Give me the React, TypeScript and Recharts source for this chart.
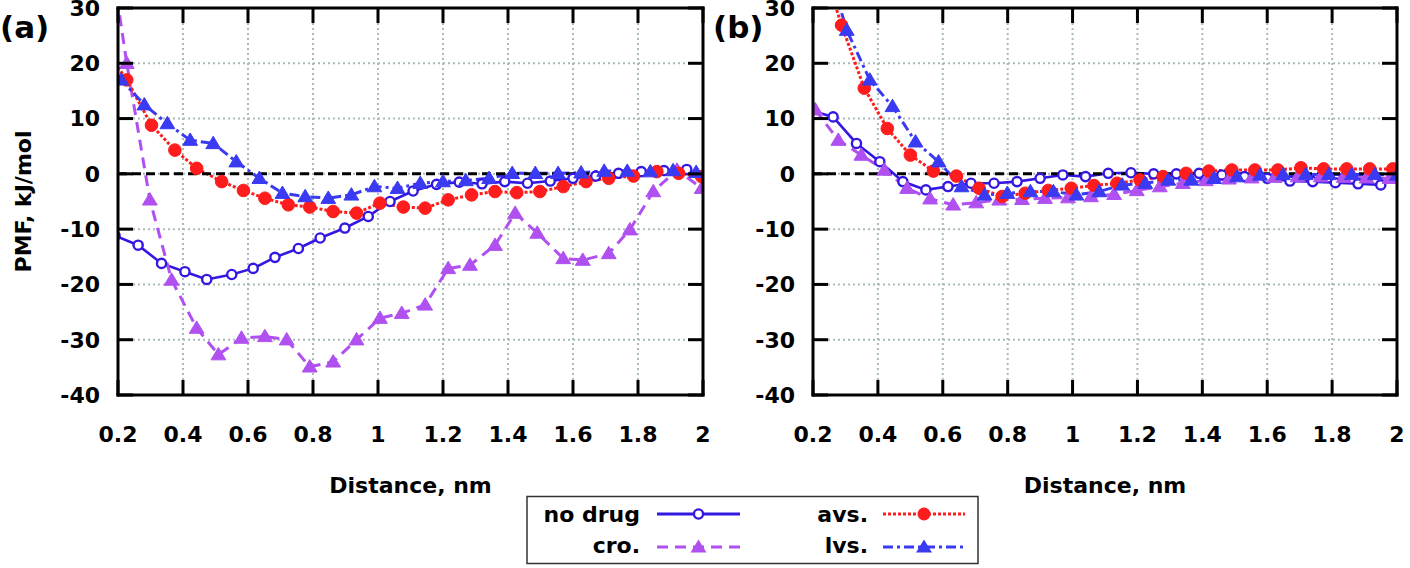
import React from 'react';
import { LineChart, Line, XAxis, YAxis, CartesianGrid, ReferenceLine } from 'recharts';

// ---------- data ----------
const xTicks = [0.2, 0.4, 0.6, 0.8, 1, 1.2, 1.4, 1.6, 1.8, 2];
const xTickLabels = ['0.2', '0.4', '0.6', '0.8', '1', '1.2', '1.4', '1.6', '1.8', '2'];
const yTicks = [-40, -30, -20, -10, 0, 10, 20, 30];
const yTickLabels = ['-40', '-30', '-20', '-10', '0', '10', '20', '30'];
const xDomain = [0.2, 2];
const yDomain = [-40, 30];

const seriesNames = ['no drug', 'cro.', 'avs.', 'lvs.'];

// panel (a)
const noDrugAX = [0.191, 0.262, 0.334, 0.406, 0.473, 0.55, 0.616, 0.683, 0.755, 0.822, 0.898, 0.97, 1.037, 1.108, 1.18, 1.25, 1.32, 1.39, 1.46, 1.53, 1.6, 1.67, 1.74, 1.81, 1.88, 1.95];
const noDrugAY = [-11.2, -12.9, -16.2, -17.7, -19.1, -18.2, -17.1, -15.1, -13.5, -11.6, -9.8, -7.7, -5.0, -3.1, -1.9, -1.5, -1.8, -1.4, -1.7, -1.3, -0.8, -0.4, 0.1, 0.4, 0.6, 0.8];

const croAX = [0.156, 0.227, 0.298, 0.365, 0.442, 0.509, 0.58, 0.652, 0.719, 0.79, 0.862, 0.934, 1.006, 1.073, 1.145, 1.216, 1.283, 1.36, 1.422, 1.49, 1.57, 1.63, 1.71, 1.775, 1.847, 1.92, 1.996];
const croAY = [48, 20, -4.7, -19.2, -27.9, -32.7, -29.7, -29.4, -30.0, -34.9, -34.0, -30.0, -26.1, -25.2, -23.7, -17.1, -16.5, -12.9, -7.1, -10.7, -15.3, -15.6, -14.4, -10.1, -3.2, 0.7, -2.6];

const avsAX = [0.156, 0.227, 0.303, 0.375, 0.442, 0.519, 0.586, 0.652, 0.724, 0.79, 0.862, 0.934, 1.006, 1.078, 1.145, 1.216, 1.288, 1.36, 1.427, 1.498, 1.57, 1.64, 1.71, 1.786, 1.858, 1.925, 1.996];
const avsAY = [23, 17.0, 8.8, 4.3, 1.0, -1.4, -3.0, -4.4, -5.6, -6.0, -6.8, -7.1, -5.3, -6.0, -6.2, -4.7, -3.8, -3.2, -3.4, -3.2, -2.3, -1.4, -0.8, -0.4, 0.4, 0.1, -0.5];

const lvsAX = [0.139, 0.21, 0.281, 0.352, 0.422, 0.493, 0.564, 0.635, 0.706, 0.776, 0.847, 0.918, 0.989, 1.06, 1.13, 1.2, 1.27, 1.342, 1.413, 1.484, 1.554, 1.625, 1.696, 1.767, 1.838, 1.908, 1.979];
const lvsAY = [16.3, 17.0, 12.5, 9.1, 6.1, 5.5, 2.2, -0.8, -3.5, -4.1, -4.4, -3.8, -2.3, -2.6, -1.7, -1.4, -1.2, -0.8, 0.1, 0.1, 0.1, 0.2, 0.5, 0.5, 0.4, 0.6, 0.3];

// panel (b)
const noDrugBX = [0.191, 0.262, 0.334, 0.406, 0.477, 0.548, 0.616, 0.687, 0.758, 0.829, 0.9, 0.97, 1.04, 1.11, 1.18, 1.25, 1.32, 1.39, 1.46, 1.53, 1.6, 1.67, 1.74, 1.81, 1.88, 1.95];
const noDrugBY = [11.5, 10.3, 5.5, 2.2, -1.4, -2.9, -2.3, -1.7, -1.7, -1.4, -0.8, -0.2, -0.5, 0.1, 0.2, 0.0, 0.0, 0.1, -0.2, -0.5, -0.8, -1.3, -1.4, -1.6, -1.8, -2.0];

const croBX = [0.207, 0.278, 0.349, 0.42, 0.49, 0.561, 0.632, 0.703, 0.774, 0.844, 0.915, 0.986, 1.057, 1.128, 1.198, 1.269, 1.34, 1.411, 1.482, 1.552, 1.623, 1.694, 1.765, 1.836, 1.906, 1.977];
const croBY = [11.6, 6.1, 3.4, 0.7, -2.6, -4.5, -5.6, -5.2, -4.7, -4.6, -4.4, -4.3, -4.1, -3.7, -3.0, -2.3, -1.7, -1.2, -0.9, -0.7, -0.6, -0.5, -0.5, -0.6, -0.7, -0.8];

const avsBX = [0.217, 0.288, 0.358, 0.429, 0.5, 0.571, 0.642, 0.712, 0.783, 0.854, 0.925, 0.996, 1.066, 1.137, 1.208, 1.279, 1.35, 1.42, 1.491, 1.562, 1.633, 1.704, 1.774, 1.845, 1.916, 1.987];
const avsBY = [40, 26.9, 15.5, 8.2, 3.4, 0.5, -0.4, -2.6, -4.1, -3.5, -3.0, -2.6, -2.1, -1.7, -1.1, -0.5, 0.1, 0.5, 0.7, 0.7, 0.7, 1.1, 0.9, 0.9, 0.9, 0.9];

const lvsBX = [0.233, 0.304, 0.375, 0.445, 0.516, 0.587, 0.658, 0.729, 0.799, 0.87, 0.941, 1.012, 1.082, 1.153, 1.224, 1.295, 1.366, 1.436, 1.507, 1.578, 1.649, 1.719, 1.79, 1.861, 1.932, 2.0];
const lvsBY = [40, 26.0, 17.0, 12.2, 5.8, 2.2, -2.3, -3.8, -3.5, -3.2, -3.2, -3.8, -3.2, -2.0, -1.7, -1.1, -1.1, -0.8, -0.5, -0.2, -0.1, -0.1, -0.1, -0.1, -0.1, -0.2];

// ---------- styles ----------
const FONT = 'DejaVu Sans';
const C_NODRUG = '#3318e2';
const C_CRO = '#b050f0';
const C_AVS = '#ff1c1c';
const C_LVS = '#3a3af2';
const GRID = '#a9baba';

const PLOT_TOP = 8;
const CHART_H = 500;
const X_AXIS_H = 105; // plot bottom at 395
const PLOT_BOTTOM = CHART_H - X_AXIS_H;
const BW = 3; // frame thickness

// panel layout (page pixels)
const A_LEFT = 0, A_W = 712, A_YW = 118, A_RM = 9;
const B_LEFT = 705, B_W = 700, B_YW = 108, B_RM = 8;

const toPts = (xs: number[], ys: number[]) => xs.map((x, i) => ({ x, y: ys[i] }));

const circleOpen = (color: string) => (p: any) => {
  const { cx, cy, index } = p;
  if (cx == null || cy == null) return <g key={`o${index}`} />;
  return <circle key={`o${index}`} cx={cx} cy={cy} r={4.6} fill="#fff" stroke={color} strokeWidth={2.4} />;
};
const circleFilled = (color: string) => (p: any) => {
  const { cx, cy, index } = p;
  if (cx == null || cy == null) return <g key={`f${index}`} />;
  return <circle key={`f${index}`} cx={cx} cy={cy} r={6.3} fill={color} stroke={color} strokeWidth={1} />;
};
const triangle = (color: string) => (p: any) => {
  const { cx, cy, index } = p;
  if (cx == null || cy == null) return <g key={`t${index}`} />;
  const d = `M${cx},${cy - 7.2} L${cx + 7.4},${cy + 5.2} L${cx - 7.4},${cy + 5.2} Z`;
  return <path key={`t${index}`} d={d} fill={color} stroke={color} strokeWidth={1} />;
};

const makeXTick = () => (p: any) => {
  const { x, y, payload, index } = p;
  const axisY = y;
  const i = xTicks.indexOf(payload.value);
  return (
    <g key={`xt${index}`}>
      <rect x={x - 1.5} y={axisY - 15} width={3} height={15} fill="#000" />
      <rect x={x - 1.5} y={PLOT_TOP} width={3} height={15} fill="#000" />
      <text x={x} y={axisY + 47} textAnchor="middle" fontFamily={FONT} fontWeight="bold" fontSize={22} fill="#000">
        {i >= 0 ? xTickLabels[i] : String(payload.value)}
      </text>
    </g>
  );
};

const makeYTick = (plotRight: number) => (p: any) => {
  const { x, y, payload, index } = p;
  const axisX = x;
  const i = yTicks.indexOf(payload.value);
  return (
    <g key={`yt${index}`}>
      <rect x={axisX} y={y - 1.5} width={15} height={3} fill="#000" />
      <rect x={plotRight - 15} y={y - 1.5} width={15} height={3} fill="#000" />
      <text x={axisX - 18} y={y} dy="0.36em" textAnchor="end" fontFamily={FONT} fontWeight="bold" fontSize={22} fill="#000">
        {i >= 0 ? yTickLabels[i] : String(payload.value)}
      </text>
    </g>
  );
};

type PanelProps = {
  width: number;
  yAxisWidth: number;
  rightMargin: number;
  noDrug: { x: number; y: number }[];
  cro: { x: number; y: number }[];
  avs: { x: number; y: number }[];
  lvs: { x: number; y: number }[];
};

function Panel({ width, yAxisWidth, rightMargin, noDrug, cro, avs, lvs }: PanelProps) {
  const plotRight = width - rightMargin;
  return (
    <LineChart width={width} height={CHART_H} margin={{ top: PLOT_TOP, right: rightMargin, left: 0, bottom: 0 }}>
      <CartesianGrid stroke={GRID} strokeDasharray="2 3" strokeWidth={2} />
      <XAxis
        type="number"
        dataKey="x"
        domain={xDomain}
        ticks={xTicks}
        interval={0}
        allowDataOverflow
        height={X_AXIS_H}
        axisLine={false}
        tickLine={false}
        tickSize={0}
        tickMargin={0}
        tick={makeXTick()}
      />
      <YAxis
        type="number"
        domain={yDomain}
        ticks={yTicks}
        interval={0}
        allowDataOverflow
        width={yAxisWidth}
        axisLine={false}
        tickLine={false}
        tickSize={0}
        tickMargin={0}
        tick={makeYTick(plotRight)}
      />
      <Line data={noDrug} dataKey="y" name={seriesNames[0]} type="linear" stroke={C_NODRUG} strokeWidth={2.6} dot={circleOpen(C_NODRUG)} isAnimationActive={false} />
      <Line data={cro} dataKey="y" name={seriesNames[1]} type="linear" stroke={C_CRO} strokeWidth={3} strokeDasharray="11 7" dot={triangle(C_CRO)} isAnimationActive={false} />
      <Line data={avs} dataKey="y" name={seriesNames[2]} type="linear" stroke={C_AVS} strokeWidth={3} strokeDasharray="3 2" dot={circleFilled(C_AVS)} isAnimationActive={false} />
      <Line data={lvs} dataKey="y" name={seriesNames[3]} type="linear" stroke={C_LVS} strokeWidth={3} strokeDasharray="10 4 3 4" dot={triangle(C_LVS)} isAnimationActive={false} />
      <ReferenceLine y={0} stroke="#000" strokeWidth={3} strokeDasharray="9 5" />
    </LineChart>
  );
}

function LegendSample({ x1, x2, y, color, dash, marker }: { x1: number; x2: number; y: number; color: string; dash?: string; marker: 'open' | 'filled' | 'tri' }) {
  const cx = (x1 + x2) / 2;
  return (
    <g>
      <line x1={x1} x2={x2} y1={y} y2={y} stroke={color} strokeWidth={3} strokeDasharray={dash} />
      {marker === 'open' && <circle cx={cx} cy={y} r={4.6} fill="#fff" stroke={color} strokeWidth={2.4} />}
      {marker === 'filled' && <circle cx={cx} cy={y} r={6.5} fill={color} />}
      {marker === 'tri' && <path d={`M${cx},${y - 7.5} L${cx + 8},${y + 5.5} L${cx - 8},${y + 5.5} Z`} fill={color} />}
    </g>
  );
}

function Frame({ x, w }: { x: number; w: number }) {
  const h = PLOT_BOTTOM - PLOT_TOP;
  const t = BW / 2;
  return (
    <g>
      <rect x={x - t} y={PLOT_TOP - t} width={w + BW} height={BW} fill="#000" />
      <rect x={x - t} y={PLOT_BOTTOM - t} width={w + BW} height={BW} fill="#000" />
      <rect x={x - t} y={PLOT_TOP - t} width={BW} height={h + BW} fill="#000" />
      <rect x={x + w - t} y={PLOT_TOP - t} width={BW} height={h + BW} fill="#000" />
    </g>
  );
}

export default function App() {
  const textStyle = { fontFamily: FONT, fontWeight: 'bold' as const, fill: '#000' };
  return (
    <div style={{ position: 'absolute', left: 0, top: 0, width: 1410, height: 568, background: '#fff', overflow: 'hidden' }}>
      <div style={{ position: 'absolute', left: A_LEFT, top: 0 }}>
        <Panel width={A_W} yAxisWidth={A_YW} rightMargin={A_RM} noDrug={toPts(noDrugAX, noDrugAY)} cro={toPts(croAX, croAY)} avs={toPts(avsAX, avsAY)} lvs={toPts(lvsAX, lvsAY)} />
      </div>
      <div style={{ position: 'absolute', left: B_LEFT, top: 0 }}>
        <Panel width={B_W} yAxisWidth={B_YW} rightMargin={B_RM} noDrug={toPts(noDrugBX, noDrugBY)} cro={toPts(croBX, croBY)} avs={toPts(avsBX, avsBY)} lvs={toPts(lvsBX, lvsBY)} />
      </div>
      <svg width={1410} height={568} style={{ position: 'absolute', left: 0, top: 0, pointerEvents: 'none' }}>
        <Frame x={A_LEFT + A_YW} w={A_W - A_RM - A_YW} />
        <Frame x={B_LEFT + B_YW} w={B_W - B_RM - B_YW} />
        <text x={0} y={38} fontSize={31} {...textStyle}>(a)</text>
        <text x={713} y={38} fontSize={31} {...textStyle}>(b)</text>
        <text transform="translate(31,201.5) rotate(-90)" textAnchor="middle" fontSize={22} {...textStyle}>PMF, kJ/mol</text>
        <text x={410.5} y={493} textAnchor="middle" fontSize={22} {...textStyle}>Distance, nm</text>
        <text x={1105} y={493} textAnchor="middle" fontSize={22} {...textStyle}>Distance, nm</text>
        <rect x={527} y={496.5} width={451} height={67} fill="#fff" stroke="#333" strokeWidth={1.5} />
        <text x={640} y={522} textAnchor="end" fontSize={22} {...textStyle}>{seriesNames[0]}</text>
        <text x={640} y={553} textAnchor="end" fontSize={22} {...textStyle}>{seriesNames[1]}</text>
        <text x={868} y={522} textAnchor="end" fontSize={22} {...textStyle}>{seriesNames[2]}</text>
        <text x={868} y={553} textAnchor="end" fontSize={22} {...textStyle}>{seriesNames[3]}</text>
        <LegendSample x1={657} x2={740} y={514} color={C_NODRUG} marker="open" />
        <LegendSample x1={657} x2={740} y={547} color={C_CRO} dash="11 7" marker="tri" />
        <LegendSample x1={883} x2={965} y={514} color={C_AVS} dash="3 2" marker="filled" />
        <LegendSample x1={883} x2={965} y={547} color={C_LVS} dash="10 4 3 4" marker="tri" />
      </svg>
    </div>
  );
}
